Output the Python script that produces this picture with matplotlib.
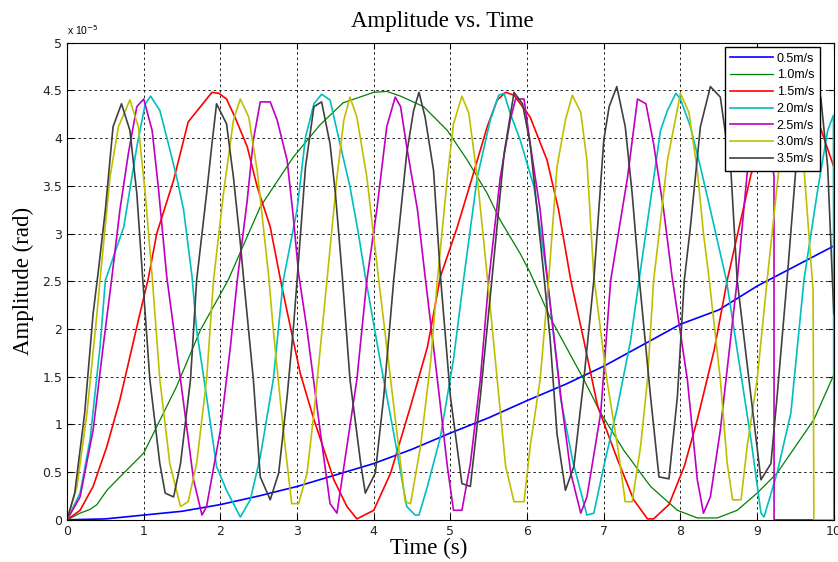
import matplotlib
matplotlib.use("Agg")
import matplotlib.pyplot as plt
from matplotlib.ticker import FuncFormatter

# amplitude values are in units of 1e-5 rad, (time s, amplitude) pairs
v05 = [(0, 0), (0.5, 0.01), (1, 0.05), (1.5, 0.09), (2, 0.16), (2.5, 0.25), (3, 0.35), (3.5, 0.47),
       (4, 0.59), (4.5, 0.74), (5, 0.91), (5.5, 1.07), (6, 1.25), (6.5, 1.42), (7, 1.61), (7.5, 1.83),
       (8, 2.05), (8.5, 2.2), (9, 2.45), (9.5, 2.66), (10, 2.87)]

v10 = [(0, 0), (0.17, 0.07), (0.3, 0.11), (0.39, 0.16), (0.52, 0.31), (0.69, 0.45), (1.0, 0.70),
       (1.43, 1.40), (1.74, 1.99), (2.1, 2.51), (2.52, 3.28), (2.95, 3.80), (3.3, 4.14), (3.6, 4.37),
       (4.0, 4.48), (4.17, 4.49), (4.35, 4.44), (4.65, 4.33), (4.96, 4.08), (5.22, 3.77), (5.48, 3.42),
       (5.65, 3.14), (5.91, 2.79), (6.04, 2.59), (6.3, 2.12), (6.74, 1.47), (6.96, 1.12), (7.26, 0.73),
       (7.61, 0.35), (7.96, 0.10), (8.22, 0.02), (8.48, 0.02), (8.74, 0.10), (9.0, 0.28), (9.26, 0.49),
       (9.74, 1.05), (10, 1.52)]

v15 = [(0, 0), (0.17, 0.1), (0.34, 0.35), (0.52, 0.77), (0.69, 1.26), (0.82, 1.71), (0.95, 2.16),
       (1.06, 2.53), (1.17, 3.0), (1.39, 3.56), (1.58, 4.17), (1.74, 4.33), (1.89, 4.48), (1.98, 4.47),
       (2.08, 4.41), (2.19, 4.22), (2.35, 3.91), (2.48, 3.49), (2.65, 3.07), (2.8, 2.45), (3.04, 1.54),
       (3.22, 1.05), (3.48, 0.42), (3.65, 0.14), (3.78, 0.01), (4.0, 0.1), (4.22, 0.49), (4.48, 1.19),
       (4.7, 1.81), (4.87, 2.55), (5.09, 3.07), (5.3, 3.63), (5.48, 4.12), (5.61, 4.40), (5.72, 4.48),
       (5.83, 4.45), (6.04, 4.22), (6.26, 3.77), (6.41, 3.25), (6.57, 2.51), (6.74, 1.88), (6.92, 1.19),
       (7.18, 0.63), (7.39, 0.21), (7.57, 0.01), (7.65, 0.01), (7.85, 0.16), (8.05, 0.56), (8.22, 1.05),
       (8.44, 1.78), (8.61, 2.51), (8.92, 3.62), (9.2, 4.2), (9.5, 4.47), (9.79, 4.19), (10, 3.7)]

v20 = [(0, 0), (0.17, 0.28), (0.3, 0.84), (0.43, 1.81), (0.5, 2.51), (0.74, 3.07), (0.91, 3.91),
       (1.02, 4.36), (1.09, 4.44), (1.21, 4.29), (1.3, 4.01), (1.43, 3.59), (1.52, 3.25), (1.63, 2.55),
       (1.69, 1.99), (1.82, 1.29), (1.95, 0.56), (2.08, 0.31), (2.26, 0.03), (2.39, 0.21), (2.52, 0.66),
       (2.69, 1.47), (2.82, 2.51), (3.0, 3.25), (3.11, 4.01), (3.22, 4.36), (3.32, 4.46), (3.43, 4.40),
       (3.56, 3.94), (3.69, 3.49), (3.8, 3.0), (3.89, 2.55), (4.09, 1.64), (4.26, 0.91), (4.43, 0.14),
       (4.54, 0.05), (4.59, 0.05), (4.7, 0.35), (4.87, 0.87), (5.04, 1.68), (5.17, 2.51), (5.35, 3.59),
       (5.52, 4.19), (5.63, 4.45), (5.7, 4.47), (5.78, 4.26), (5.91, 3.98), (6.09, 3.49), (6.26, 2.55),
       (6.44, 1.26), (6.6, 0.6), (6.78, 0.05), (6.87, 0.07), (7.0, 0.56), (7.18, 1.19), (7.35, 1.88),
       (7.46, 2.51), (7.61, 3.35), (7.74, 4.08), (7.83, 4.29), (7.94, 4.47), (8.0, 4.41), (8.13, 4.12),
       (8.26, 3.7), (8.39, 3.25), (8.52, 2.79), (8.6, 2.51), (8.74, 1.78), (8.92, 0.84), (9.05, 0.07),
       (9.09, 0.03), (9.26, 0.49), (9.44, 1.12), (9.61, 2.51), (9.79, 3.46), (9.92, 4.08), (9.995, 4.24),
       (10, 0)]

v25 = [(0, 0), (0.17, 0.24), (0.34, 0.94), (0.47, 1.81), (0.58, 2.51), (0.69, 3.25), (0.8, 3.84),
       (0.91, 4.33), (1.0, 4.41), (1.11, 4.08), (1.19, 3.49), (1.3, 2.55), (1.48, 1.47), (1.65, 0.42),
       (1.76, 0.05), (1.82, 0.14), (2.0, 0.94), (2.13, 1.81), (2.22, 2.51), (2.35, 3.35), (2.43, 3.98),
       (2.52, 4.38), (2.65, 4.38), (2.74, 4.19), (2.87, 3.77), (2.95, 3.18), (3.02, 2.58), (3.13, 1.99),
       (3.3, 0.94), (3.43, 0.17), (3.52, 0.07), (3.65, 0.77), (3.78, 1.47), (3.91, 2.51), (4.04, 3.25),
       (4.17, 4.12), (4.28, 4.43), (4.35, 4.33), (4.43, 3.91), (4.57, 3.25), (4.67, 2.55), (4.83, 1.47),
       (4.96, 0.56), (5.04, 0.1), (5.15, 0.1), (5.26, 0.59), (5.39, 1.47), (5.5, 2.51), (5.65, 3.59),
       (5.78, 4.19), (5.85, 4.41), (5.96, 4.41), (6.04, 3.94), (6.17, 3.25), (6.26, 2.55), (6.44, 1.29),
       (6.57, 0.49), (6.7, 0.07), (6.78, 0.24), (6.96, 1.12), (7.09, 2.51), (7.31, 3.59), (7.44, 4.41),
       (7.55, 4.36), (7.65, 3.94), (7.78, 3.25), (7.89, 2.55), (8.09, 1.47), (8.22, 0.42), (8.3, 0.07),
       (8.39, 0.24), (8.52, 0.94), (8.74, 2.51), (8.87, 3.63), (9.02, 4.4), (9.15, 4.0), (9.22, 3.6),
       (9.221, 0), (10, 0)]

v30 = [(0, 0), (0.13, 0.35), (0.26, 1.12), (0.39, 2.16), (0.43, 2.51), (0.56, 3.59), (0.67, 4.12),
       (0.82, 4.40), (0.93, 4.12), (1.02, 3.42), (1.11, 2.55), (1.21, 1.47), (1.34, 0.59), (1.48, 0.14),
       (1.58, 0.19), (1.69, 0.59), (1.82, 1.47), (1.91, 2.51), (2.04, 3.42), (2.17, 4.19), (2.26, 4.41),
       (2.37, 4.22), (2.48, 3.66), (2.56, 3.07), (2.63, 2.55), (2.69, 1.99), (2.82, 0.94), (2.93, 0.17),
       (3.02, 0.17), (3.13, 0.49), (3.22, 1.12), (3.39, 2.51), (3.52, 3.59), (3.61, 4.19), (3.69, 4.43),
       (3.78, 4.22), (3.91, 3.59), (4.06, 2.55), (4.22, 1.47), (4.35, 0.59), (4.41, 0.19), (4.48, 0.17),
       (4.61, 0.77), (4.74, 1.64), (4.83, 2.51), (4.96, 3.59), (5.04, 4.15), (5.15, 4.44), (5.24, 4.26),
       (5.35, 3.59), (5.48, 2.55), (5.61, 1.47), (5.72, 0.56), (5.83, 0.19), (5.96, 0.19), (6.04, 0.77),
       (6.17, 1.47), (6.28, 2.5), (6.39, 3.7), (6.5, 4.19), (6.59, 4.45), (6.7, 4.27), (6.78, 3.77),
       (6.87, 2.55), (7.04, 1.47), (7.18, 0.77), (7.28, 0.19), (7.37, 0.19), (7.48, 0.77), (7.57, 1.47),
       (7.65, 2.51), (7.7, 2.85), (7.83, 3.77), (7.94, 4.22), (8.0, 4.47), (8.11, 4.27), (8.22, 3.66),
       (8.3, 3.0), (8.37, 2.55), (8.52, 1.47), (8.61, 0.59), (8.68, 0.21), (8.79, 0.21), (8.87, 0.77),
       (9.0, 1.47), (9.13, 2.51), (9.3, 3.8), (9.44, 4.45), (9.6, 3.8), (9.73, 2.4), (9.74, 0), (10, 0)]

v35 = [(0, 0), (0.1, 0.28), (0.23, 1.12), (0.34, 2.16), (0.41, 2.62), (0.5, 3.25), (0.6, 4.12),
       (0.71, 4.36), (0.82, 4.08), (0.91, 3.42), (0.97, 2.72), (1.08, 1.47), (1.21, 0.59), (1.28, 0.28),
       (1.39, 0.24), (1.48, 0.59), (1.61, 1.47), (1.69, 2.51), (1.82, 3.42), (1.89, 3.94), (1.95, 4.36),
       (2.08, 4.15), (2.17, 3.59), (2.26, 2.90), (2.3, 2.55), (2.43, 1.47), (2.52, 0.45), (2.65, 0.21),
       (2.76, 0.49), (2.87, 1.29), (2.95, 1.99), (3.0, 2.51), (3.11, 3.7), (3.22, 4.33), (3.32, 4.38),
       (3.43, 3.94), (3.5, 3.42), (3.59, 2.55), (3.69, 1.47), (3.83, 0.59), (3.89, 0.28), (4.02, 0.49),
       (4.13, 1.29), (4.26, 2.51), (4.43, 3.84), (4.52, 4.29), (4.59, 4.48), (4.67, 4.22), (4.78, 3.66),
       (4.87, 2.55), (5.0, 1.29), (5.15, 0.38), (5.26, 0.35), (5.39, 1.29), (5.54, 2.51), (5.7, 3.84),
       (5.83, 4.48), (5.94, 4.36), (6.04, 3.94), (6.13, 3.25), (6.22, 2.55), (6.3, 1.9), (6.39, 0.9),
       (6.5, 0.31), (6.61, 0.56), (6.74, 1.47), (6.87, 2.51), (7.0, 3.98), (7.07, 4.33), (7.17, 4.54),
       (7.28, 4.12), (7.37, 3.42), (7.46, 2.55), (7.61, 1.29), (7.72, 0.45), (7.85, 0.43), (7.96, 1.29),
       (8.05, 2.51), (8.13, 3.07), (8.26, 4.12), (8.39, 4.54), (8.52, 4.43), (8.66, 3.63), (8.74, 2.51),
       (8.92, 1.29), (9.05, 0.42), (9.18, 0.59), (9.26, 1.29), (9.39, 2.51), (9.5, 3.63), (9.65, 4.5),
       (9.83, 4.43), (9.92, 3.7), (10, 2.16)]

series = [v05, v10, v15, v20, v25, v30, v35]
labels = ['0.5m/s', '1.0m/s', '1.5m/s', '2.0m/s', '2.5m/s', '3.0m/s', '3.5m/s']
colors = ['#0000ff', '#008000', '#ff0000', '#00bfbf', '#bf00bf', '#bfbf00', '#404040']
widths = [1.2, 0.9, 1.2, 1.2, 1.2, 1.2, 1.2]

fig = plt.figure(figsize=(8.38, 5.62), dpi=100)
ax = fig.add_axes([0.08, 0.075, 0.915, 0.849])

for pts, lab, c, w in zip(series, labels, colors, widths):
    t = [p[0] for p in pts]
    a = [p[1] for p in pts]
    ax.plot(t, a, color=c, lw=w, label=lab)

ax.set_xlim(0, 10)
ax.set_ylim(0, 5)
ax.set_xticks(range(0, 11))
ax.set_yticks([i * 0.5 for i in range(11)])
ax.yaxis.set_major_formatter(FuncFormatter(lambda v, p: '%g' % v))
ax.tick_params(direction='in', length=4, width=0.8, labelsize=9, top=True, right=True,
               labelcolor='#222222')
ax.grid(True, color='black', linestyle=(0, (3, 3.5)), linewidth=0.6)
for s in ax.spines.values():
    s.set_linewidth(0.8)

ax.text(0.0, 1.012, r'x 10$^{-5}$', transform=ax.transAxes, fontsize=7.5,
        family='Liberation Sans', va='bottom', ha='left')

ax.set_title('Amplitude vs. Time', family='Liberation Serif', fontsize=16.5, pad=11, x=0.49)
ax.set_xlabel('Time (s)', family='Liberation Serif', fontsize=16.5)
ax.xaxis.set_label_coords(0.471, -0.038)
ax.set_ylabel('Amplitude (rad)', family='Liberation Serif', fontsize=16.5, labelpad=6)

ax.legend(loc='upper right', bbox_to_anchor=(0.9817, 0.991), borderaxespad=0,
          handlelength=3.4, handletextpad=0.3, fancybox=False, edgecolor='black',
          framealpha=1, labelspacing=0.38, borderpad=0.45,
          prop={'family': 'Liberation Sans', 'size': 9})

fig.savefig('out.png', dpi=100)
